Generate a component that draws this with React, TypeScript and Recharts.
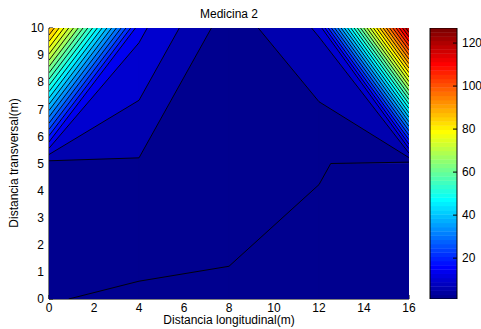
import { Bar, BarChart, Scatter, ScatterChart, XAxis, YAxis } from 'recharts';

// grid nodes of the measured field (x along the room, y across it)
const xNodes = [0, 4, 8, 12, 16];
const yNodes = [0, 5, 10];
const zAtY0 = [5.22, 4.51, 4.13, 4.06, 1.0];
const zAtY5 = [7.38, 8.73, 8.0, 5.25, 3.83];
const zAtY10 = [95, 18.3, 6.9, 13.76, 127];

const zMin = 1;
const zMax = 127;
const levelCount = 30;

const xTicks = [0, 2, 4, 6, 8, 10, 12, 14, 16];
const yTicks = [0, 1, 2, 3, 4, 5, 6, 7, 8, 9, 10];
const colorTicks = [20, 40, 60, 80, 100, 120];

type P = { x: number; y: number };
type C = P & { z: number };

// MATLAB jet(64)
function jetColor(k: number): string {
  const u = (j: number) => (j < 1 || j > 47 ? 0 : j <= 16 ? j / 16 : j <= 31 ? 1 : (48 - j) / 16);
  const to = (v: number) => Math.round(v * 255);
  return `rgb(${to(u(k - 24))},${to(u(k - 8))},${to(u(k + 8))})`;
}
const jetAt = (v: number) => {
  const k = Math.floor(((v - zMin) / (zMax - zMin)) * 64) + 1;
  return jetColor(Math.max(1, Math.min(64, k)));
};
const jetList = Array.from({ length: 64 }, (_, i) => jetColor(i + 1));

const zGrid = [zAtY0, zAtY5, zAtY10];
const step = (zMax - zMin) / (levelCount + 1);
const levels = Array.from({ length: levelCount }, (_, k) => zMin + (k + 1) * step);

const cells: C[][] = [];
for (let j = 0; j < yNodes.length - 1; j++) {
  for (let i = 0; i < xNodes.length - 1; i++) {
    cells.push([
      { x: xNodes[i], y: yNodes[j], z: zGrid[j][i] },
      { x: xNodes[i + 1], y: yNodes[j], z: zGrid[j][i + 1] },
      { x: xNodes[i + 1], y: yNodes[j + 1], z: zGrid[j + 1][i + 1] },
      { x: xNodes[i], y: yNodes[j + 1], z: zGrid[j + 1][i] },
    ]);
  }
}

const cross = (a: C, b: C, lv: number): P => {
  const t = (lv - a.z) / (b.z - a.z);
  return { x: a.x + t * (b.x - a.x), y: a.y + t * (b.y - a.y) };
};

function regionAbove(c: C[], lv: number): P[] {
  const out: P[] = [];
  for (let k = 0; k < 4; k++) {
    const a = c[k];
    const b = c[(k + 1) % 4];
    if (a.z >= lv) out.push({ x: a.x, y: a.y });
    if (a.z >= lv !== b.z >= lv) out.push(cross(a, b, lv));
  }
  return out;
}

function crossings(c: C[], lv: number): P[] {
  const out: P[] = [];
  for (let k = 0; k < 4; k++) {
    const a = c[k];
    const b = c[(k + 1) % 4];
    if (a.z >= lv !== b.z >= lv) out.push(cross(a, b, lv));
  }
  return out.length === 2 || out.length === 4 ? out : [];
}

const fillLayers = [-Infinity, ...levels].map((lv, k) => {
  const polys = cells.map((c) => regionAbove(c, lv)).filter((p) => p.length >= 3);
  return {
    points: polys.flat(),
    lens: polys.map((p) => p.length),
    color: jetAt(k <= 1 ? zMin : levels[k - 2]),
  };
});

const lineLayers = levels.map((lv) => ({ points: cells.flatMap((c) => crossings(c, lv)) }));

const noDot = () => <g />;

const drawPolys = (lens: number[], color: string) => (props: any) => {
  const pts: P[] = props.points || [];
  let off = 0;
  return (
    <g>
      {lens.map((n, i) => {
        const seg = pts.slice(off, off + n);
        off += n;
        return (
          <polygon
            key={i}
            points={seg.map((p) => `${p.x},${p.y}`).join(' ')}
            fill={color}
            stroke={color}
            strokeWidth={0.6}
          />
        );
      })}
    </g>
  );
};

const drawSegments = (props: any) => {
  const pts: P[] = props.points || [];
  const segs = [];
  for (let i = 0; i + 1 < pts.length; i += 2) {
    segs.push(
      <line key={i} x1={pts[i].x} y1={pts[i].y} x2={pts[i + 1].x} y2={pts[i + 1].y} stroke="#000" strokeWidth={0.9} />
    );
  }
  return <g>{segs}</g>;
};

const colorBarShape = (p: any) => (
  <g>
    {jetList.map((c, i) => (
      <rect
        key={i}
        x={p.x}
        y={p.y + (p.height * (63 - i)) / 64}
        width={p.width}
        height={p.height / 64 + 0.4}
        fill={c}
      />
    ))}
    <rect x={p.x} y={p.y} width={p.width} height={p.height} fill="none" stroke="#000" strokeWidth={1} />
  </g>
);

const colorBarData = [{ name: 'cb', span: [zMin, zMax] }];

const axisLine = { stroke: '#000' };
const tickFont = { fill: '#000', fontSize: 12 };

export default function App() {
  return (
    <div
      style={{
        position: 'absolute',
        left: 0,
        top: 0,
        width: 481,
        height: 329,
        background: '#fff',
        fontFamily: 'Arial, "Liberation Sans", sans-serif',
      }}
    >
      <div style={{ position: 'absolute', left: 0, top: 0 }}>
        <ScatterChart width={481} height={329} margin={{ top: 28, right: 72, bottom: 0, left: 0 }}>
          {fillLayers.map((layer, i) => (
            <Scatter
              key={'f' + i}
              data={layer.points}
              line={drawPolys(layer.lens, layer.color)}
              shape={noDot}
              legendType="none"
              isAnimationActive={false}
            />
          ))}
          {lineLayers.map((layer, i) => (
            <Scatter
              key={'l' + i}
              data={layer.points}
              line={drawSegments}
              shape={noDot}
              legendType="none"
              isAnimationActive={false}
            />
          ))}
          <XAxis
            dataKey="x"
            type="number"
            domain={[0, 16]}
            ticks={xTicks}
            allowDataOverflow
            height={30}
            tickSize={-4}
            tickMargin={8}
            axisLine={axisLine}
            tickLine={axisLine}
            tick={tickFont}
          />
          <XAxis
            xAxisId="top"
            orientation="top"
            type="number"
            domain={[0, 16]}
            ticks={xTicks}
            allowDataOverflow
            height={0}
            tickSize={-4}
            axisLine={axisLine}
            tickLine={axisLine}
            tick={false}
          />
          <YAxis
            dataKey="y"
            type="number"
            domain={[0, 10]}
            ticks={yTicks}
            allowDataOverflow
            width={49}
            tickSize={-4}
            tickMargin={9}
            axisLine={axisLine}
            tickLine={axisLine}
            tick={tickFont}
          />
          <YAxis
            yAxisId="right"
            orientation="right"
            type="number"
            domain={[0, 10]}
            ticks={yTicks}
            allowDataOverflow
            width={0}
            tickSize={-4}
            axisLine={axisLine}
            tickLine={axisLine}
            tick={false}
          />
        </ScatterChart>
      </div>
      <div style={{ position: 'absolute', left: 0, top: 0 }}>
        <BarChart
          width={481}
          height={329}
          data={colorBarData}
          margin={{ top: 28, right: 0, bottom: 30, left: 430 }}
          barCategoryGap={0}
          barGap={0}
        >
          <XAxis dataKey="name" hide />
          <YAxis
            orientation="right"
            type="number"
            domain={[zMin, zMax]}
            ticks={colorTicks}
            allowDataOverflow
            width={24}
            tickSize={-4}
            tickMargin={9}
            axisLine={false}
            tickLine={axisLine}
            tick={tickFont}
          />
          <Bar dataKey="span" shape={colorBarShape} isAnimationActive={false} />
        </BarChart>
      </div>
      <svg
        width={481}
        height={329}
        style={{ position: 'absolute', left: 0, top: 0, pointerEvents: 'none' }}
      >
        <text x={229} y={18} textAnchor="middle" fontSize={12} fill="#000">
          Medicina 2
        </text>
        <text x={229} y={324} textAnchor="middle" fontSize={12} fill="#000">
          Distancia longitudinal(m)
        </text>
        <text transform="translate(18,163) rotate(-90)" textAnchor="middle" fontSize={12} fill="#000">
          Distancia transversal(m)
        </text>
      </svg>
    </div>
  );
}
